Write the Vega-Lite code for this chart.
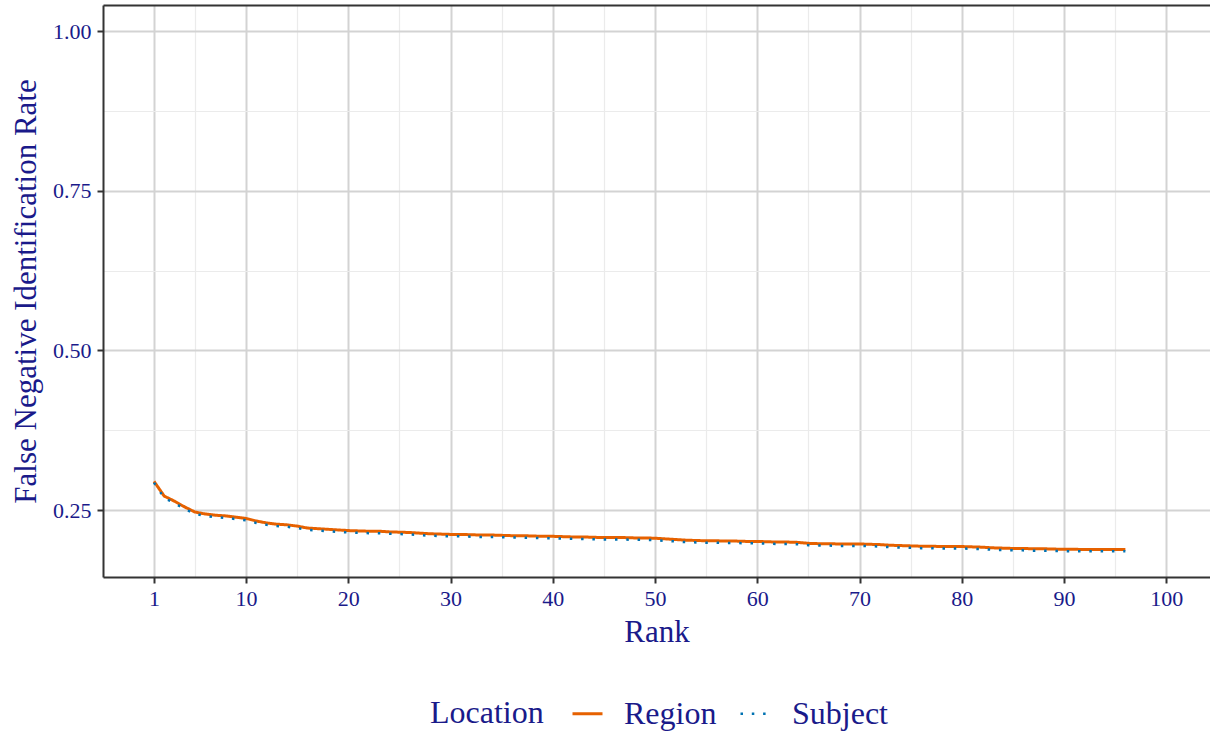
{
  "$schema": "https://vega.github.io/schema/vega-lite/v6.json",
  "width": 1107,
  "height": 572,
  "autosize": "none",
  "padding": {"left": 103, "top": 5, "right": 0, "bottom": 154},
  "background": "white",
  "config": {"view": {"stroke": null}, "font": "Liberation Serif"},
  "data": {"values": [
    {"rank":1,"location":"Region","rate":0.295},{"rank":2,"location":"Region","rate":0.272},{"rank":3,"location":"Region","rate":0.264},{"rank":4,"location":"Region","rate":0.255},{"rank":5,"location":"Region","rate":0.247},{"rank":6,"location":"Region","rate":0.244},{"rank":7,"location":"Region","rate":0.242},{"rank":8,"location":"Region","rate":0.241},{"rank":9,"location":"Region","rate":0.239},{"rank":10,"location":"Region","rate":0.237},
    {"rank":11,"location":"Region","rate":0.233},{"rank":12,"location":"Region","rate":0.230},{"rank":13,"location":"Region","rate":0.228},{"rank":14,"location":"Region","rate":0.227},{"rank":15,"location":"Region","rate":0.225},{"rank":16,"location":"Region","rate":0.222},{"rank":17,"location":"Region","rate":0.221},{"rank":18,"location":"Region","rate":0.220},{"rank":19,"location":"Region","rate":0.219},{"rank":20,"location":"Region","rate":0.218},
    {"rank":21,"location":"Region","rate":0.2175},{"rank":22,"location":"Region","rate":0.217},{"rank":23,"location":"Region","rate":0.217},{"rank":24,"location":"Region","rate":0.216},{"rank":25,"location":"Region","rate":0.2155},{"rank":26,"location":"Region","rate":0.215},{"rank":27,"location":"Region","rate":0.214},{"rank":28,"location":"Region","rate":0.213},{"rank":29,"location":"Region","rate":0.2125},{"rank":30,"location":"Region","rate":0.212},
    {"rank":31,"location":"Region","rate":0.212},{"rank":32,"location":"Region","rate":0.2115},{"rank":33,"location":"Region","rate":0.211},{"rank":34,"location":"Region","rate":0.211},{"rank":35,"location":"Region","rate":0.2105},{"rank":36,"location":"Region","rate":0.210},{"rank":37,"location":"Region","rate":0.210},{"rank":38,"location":"Region","rate":0.2095},{"rank":39,"location":"Region","rate":0.209},{"rank":40,"location":"Region","rate":0.209},
    {"rank":41,"location":"Region","rate":0.2085},{"rank":42,"location":"Region","rate":0.208},{"rank":43,"location":"Region","rate":0.208},{"rank":44,"location":"Region","rate":0.2075},{"rank":45,"location":"Region","rate":0.207},{"rank":46,"location":"Region","rate":0.207},{"rank":47,"location":"Region","rate":0.207},{"rank":48,"location":"Region","rate":0.2065},{"rank":49,"location":"Region","rate":0.2065},{"rank":50,"location":"Region","rate":0.206},
    {"rank":51,"location":"Region","rate":0.205},{"rank":52,"location":"Region","rate":0.204},{"rank":53,"location":"Region","rate":0.203},{"rank":54,"location":"Region","rate":0.2025},{"rank":55,"location":"Region","rate":0.202},{"rank":56,"location":"Region","rate":0.202},{"rank":57,"location":"Region","rate":0.2015},{"rank":58,"location":"Region","rate":0.2015},{"rank":59,"location":"Region","rate":0.201},{"rank":60,"location":"Region","rate":0.201},
    {"rank":61,"location":"Region","rate":0.2005},{"rank":62,"location":"Region","rate":0.200},{"rank":63,"location":"Region","rate":0.200},{"rank":64,"location":"Region","rate":0.1995},{"rank":65,"location":"Region","rate":0.198},{"rank":66,"location":"Region","rate":0.1975},{"rank":67,"location":"Region","rate":0.1975},{"rank":68,"location":"Region","rate":0.197},{"rank":69,"location":"Region","rate":0.197},{"rank":70,"location":"Region","rate":0.197},
    {"rank":71,"location":"Region","rate":0.1965},{"rank":72,"location":"Region","rate":0.196},{"rank":73,"location":"Region","rate":0.195},{"rank":74,"location":"Region","rate":0.1945},{"rank":75,"location":"Region","rate":0.194},{"rank":76,"location":"Region","rate":0.1935},{"rank":77,"location":"Region","rate":0.1935},{"rank":78,"location":"Region","rate":0.193},{"rank":79,"location":"Region","rate":0.193},{"rank":80,"location":"Region","rate":0.193},
    {"rank":81,"location":"Region","rate":0.1925},{"rank":82,"location":"Region","rate":0.192},{"rank":83,"location":"Region","rate":0.191},{"rank":84,"location":"Region","rate":0.1905},{"rank":85,"location":"Region","rate":0.190},{"rank":86,"location":"Region","rate":0.190},{"rank":87,"location":"Region","rate":0.1895},{"rank":88,"location":"Region","rate":0.1895},{"rank":89,"location":"Region","rate":0.189},{"rank":90,"location":"Region","rate":0.1888},
    {"rank":91,"location":"Region","rate":0.1886},{"rank":92,"location":"Region","rate":0.1885},{"rank":93,"location":"Region","rate":0.1884},{"rank":94,"location":"Region","rate":0.1883},{"rank":95,"location":"Region","rate":0.1882},{"rank":96,"location":"Region","rate":0.1882},
    {"rank":1,"location":"Subject","rate":0.293},{"rank":2,"location":"Subject","rate":0.269},{"rank":3,"location":"Subject","rate":0.261},{"rank":4,"location":"Subject","rate":0.252},{"rank":5,"location":"Subject","rate":0.244},{"rank":6,"location":"Subject","rate":0.241},{"rank":7,"location":"Subject","rate":0.239},{"rank":8,"location":"Subject","rate":0.238},{"rank":9,"location":"Subject","rate":0.236},{"rank":10,"location":"Subject","rate":0.234},
    {"rank":11,"location":"Subject","rate":0.230},{"rank":12,"location":"Subject","rate":0.227},{"rank":13,"location":"Subject","rate":0.225},{"rank":14,"location":"Subject","rate":0.224},{"rank":15,"location":"Subject","rate":0.222},{"rank":16,"location":"Subject","rate":0.219},{"rank":17,"location":"Subject","rate":0.218},{"rank":18,"location":"Subject","rate":0.217},{"rank":19,"location":"Subject","rate":0.216},{"rank":20,"location":"Subject","rate":0.215},
    {"rank":21,"location":"Subject","rate":0.2145},{"rank":22,"location":"Subject","rate":0.214},{"rank":23,"location":"Subject","rate":0.214},{"rank":24,"location":"Subject","rate":0.213},{"rank":25,"location":"Subject","rate":0.2125},{"rank":26,"location":"Subject","rate":0.212},{"rank":27,"location":"Subject","rate":0.211},{"rank":28,"location":"Subject","rate":0.210},{"rank":29,"location":"Subject","rate":0.2095},{"rank":30,"location":"Subject","rate":0.209},
    {"rank":31,"location":"Subject","rate":0.209},{"rank":32,"location":"Subject","rate":0.2085},{"rank":33,"location":"Subject","rate":0.208},{"rank":34,"location":"Subject","rate":0.208},{"rank":35,"location":"Subject","rate":0.2075},{"rank":36,"location":"Subject","rate":0.207},{"rank":37,"location":"Subject","rate":0.207},{"rank":38,"location":"Subject","rate":0.2065},{"rank":39,"location":"Subject","rate":0.206},{"rank":40,"location":"Subject","rate":0.206},
    {"rank":41,"location":"Subject","rate":0.2055},{"rank":42,"location":"Subject","rate":0.205},{"rank":43,"location":"Subject","rate":0.205},{"rank":44,"location":"Subject","rate":0.2045},{"rank":45,"location":"Subject","rate":0.204},{"rank":46,"location":"Subject","rate":0.204},{"rank":47,"location":"Subject","rate":0.204},{"rank":48,"location":"Subject","rate":0.2035},{"rank":49,"location":"Subject","rate":0.2035},{"rank":50,"location":"Subject","rate":0.203},
    {"rank":51,"location":"Subject","rate":0.202},{"rank":52,"location":"Subject","rate":0.201},{"rank":53,"location":"Subject","rate":0.200},{"rank":54,"location":"Subject","rate":0.1995},{"rank":55,"location":"Subject","rate":0.199},{"rank":56,"location":"Subject","rate":0.199},{"rank":57,"location":"Subject","rate":0.1985},{"rank":58,"location":"Subject","rate":0.1985},{"rank":59,"location":"Subject","rate":0.198},{"rank":60,"location":"Subject","rate":0.198},
    {"rank":61,"location":"Subject","rate":0.1975},{"rank":62,"location":"Subject","rate":0.197},{"rank":63,"location":"Subject","rate":0.197},{"rank":64,"location":"Subject","rate":0.1965},{"rank":65,"location":"Subject","rate":0.195},{"rank":66,"location":"Subject","rate":0.1945},{"rank":67,"location":"Subject","rate":0.1945},{"rank":68,"location":"Subject","rate":0.194},{"rank":69,"location":"Subject","rate":0.194},{"rank":70,"location":"Subject","rate":0.194},
    {"rank":71,"location":"Subject","rate":0.1935},{"rank":72,"location":"Subject","rate":0.193},{"rank":73,"location":"Subject","rate":0.192},{"rank":74,"location":"Subject","rate":0.1915},{"rank":75,"location":"Subject","rate":0.191},{"rank":76,"location":"Subject","rate":0.1905},{"rank":77,"location":"Subject","rate":0.1905},{"rank":78,"location":"Subject","rate":0.190},{"rank":79,"location":"Subject","rate":0.190},{"rank":80,"location":"Subject","rate":0.190},
    {"rank":81,"location":"Subject","rate":0.1895},{"rank":82,"location":"Subject","rate":0.189},{"rank":83,"location":"Subject","rate":0.188},{"rank":84,"location":"Subject","rate":0.1875},{"rank":85,"location":"Subject","rate":0.187},{"rank":86,"location":"Subject","rate":0.187},{"rank":87,"location":"Subject","rate":0.1865},{"rank":88,"location":"Subject","rate":0.1865},{"rank":89,"location":"Subject","rate":0.186},{"rank":90,"location":"Subject","rate":0.1858},
    {"rank":91,"location":"Subject","rate":0.1856},{"rank":92,"location":"Subject","rate":0.1855},{"rank":93,"location":"Subject","rate":0.1855},{"rank":94,"location":"Subject","rate":0.1855},{"rank":95,"location":"Subject","rate":0.1855},{"rank":96,"location":"Subject","rate":0.1855}
  ]},
  "layer": [
    {
      "mark": {"type": "line", "clip": true},
      "encoding": {
        "x": {
          "field": "rank", "type": "quantitative",
          "scale": {"domain": [-3.988, 104.275], "nice": false, "zero": false},
          "axis": {
            "values": [1,5,10,15,20,25,30,35,40,45,50,55,60,65,70,75,80,85,90,95,100],
            "title": "Rank",
            "format": "d",
            "labelExpr": "datum.value % 10 == 5 ? '' : datum.label",
            "grid": true,
            "gridColor": {"condition": {"test": "datum.value % 10 == 5", "value": "#EBEBEB"}, "value": "#D3D3D3"},
            "gridWidth": {"condition": {"test": "datum.value % 10 == 5", "value": 1.2}, "value": 2},
            "tickOpacity": {"condition": {"test": "datum.value % 10 == 5", "value": 0}, "value": 1},
            "tickColor": "#333333", "tickWidth": 2, "tickSize": 6,
            "domainColor": "#333333", "domainWidth": 2,
            "labelFontSize": 22, "labelColor": "#1a1a8a", "labelPadding": 5, "labelFlush": false,
            "titleFontSize": 31, "titleColor": "#1a1a8a", "titleFontWeight": "normal", "titlePadding": 8
          }
        },
        "y": {
          "field": "rate", "type": "quantitative",
          "scale": {"domain": [0.1453, 1.041], "nice": false, "zero": false},
          "axis": {
            "values": [0.25, 0.375, 0.5, 0.625, 0.75, 0.875, 1.0],
            "title": "False Negative Identification Rate",
            "format": ".2f",
            "labelExpr": "round(datum.value*1000) % 250 == 125 ? '' : datum.label",
            "grid": true,
            "gridColor": {"condition": {"test": "round(datum.value*1000) % 250 == 125", "value": "#EBEBEB"}, "value": "#D3D3D3"},
            "gridWidth": {"condition": {"test": "round(datum.value*1000) % 250 == 125", "value": 1.2}, "value": 2},
            "tickOpacity": {"condition": {"test": "round(datum.value*1000) % 250 == 125", "value": 0}, "value": 1},
            "tickColor": "#333333", "tickWidth": 2, "tickSize": 6,
            "domainColor": "#333333", "domainWidth": 2,
            "labelFontSize": 22, "labelColor": "#1a1a8a", "labelPadding": 6, "labelFlush": false,
            "titleFontSize": 31, "titleColor": "#1a1a8a", "titleFontWeight": "normal", "titlePadding": 10
          }
        },
        "color": {
          "field": "location", "type": "nominal",
          "scale": {"domain": ["Region", "Subject"], "range": ["#E66100", "#0072B2"]},
          "legend": {
            "orient": "none", "legendX": 327, "legendY": 692,
            "direction": "horizontal", "title": "Location", "titleOrient": "left",
            "titleAnchor": "middle", "titleBaseline": "middle",
            "titleFontSize": 32, "titleColor": "#1a1a8a", "titleFontWeight": "normal", "titlePadding": 27,
            "labelFontSize": 32, "labelColor": "#1a1a8a", "labelOffset": 20,
            "symbolType": "stroke", "symbolSize": 900, "columnPadding": 18
          }
        },
        "strokeDash": {
          "field": "location", "type": "nominal",
          "scale": {"domain": ["Region", "Subject"], "range": [[1, 0], [2.5, 8.8]]}
        },
        "strokeWidth": {
          "field": "location", "type": "nominal",
          "scale": {"domain": ["Region", "Subject"], "range": [3, 2.5]}
        }
      }
    },
    {
      "mark": {"type": "line", "strokeOpacity": 0},
      "encoding": {
        "x": {"field": "rank", "type": "quantitative",
              "axis": {"orient": "top", "labels": false, "ticks": false, "grid": false, "domain": true, "domainColor": "#333333", "domainWidth": 2, "title": null}},
        "y": {"field": "rate", "type": "quantitative", "axis": null}
      }
    }
  ],
  "resolve": {"axis": {"x": "independent", "y": "independent"}}
}
